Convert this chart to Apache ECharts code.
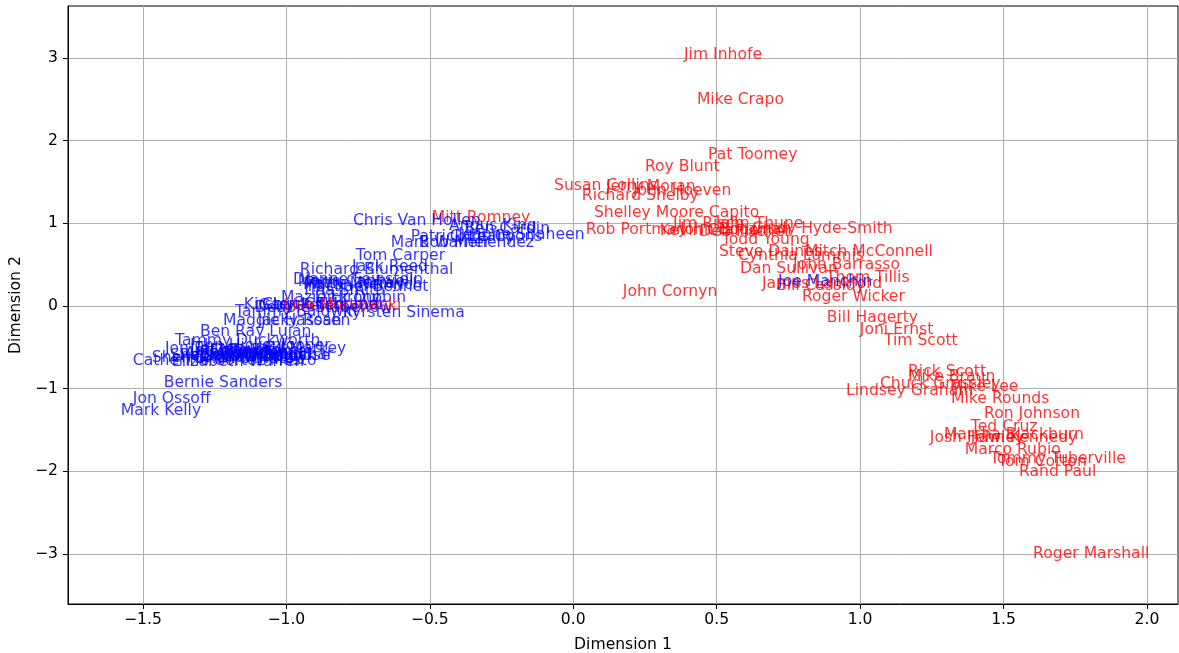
<!DOCTYPE html>
<html>
<head>
<meta charset="utf-8">
<script src="https://cdn.jsdelivr.net/npm/echarts@6/dist/echarts.min.js"></script>
<style>
  html, body { margin: 0; padding: 0; background: #fff; }
  #chart { width: 1179px; height: 653px; }
</style>
</head>
<body>
<div id="chart"></div>
<script>
// Senators placed on the first two dimensions of the vote-similarity embedding.
const republicans = [
  "Jim Inhofe", "Mike Crapo", "Pat Toomey", "Roy Blunt", "Susan Collins", "Jerry Moran",
  "John Hoeven", "Richard Shelby", "Shelley Moore Capito", "Rob Portman", "Jim Risch",
  "John Thune", "Cindy Hyde-Smith", "Kevin Cramer", "John Boozman", "Deb Fischer",
  "Todd Young", "Steve Daines", "Cynthia Lummis", "Mitch McConnell", "John Barrasso",
  "Dan Sullivan", "Thom Tillis", "James Lankford", "Bill Cassidy", "Roger Wicker",
  "John Cornyn", "Bill Hagerty", "Joni Ernst", "Tim Scott", "Rick Scott", "Mike Braun",
  "Chuck Grassley", "Mike Lee", "Lindsey Graham", "Mike Rounds", "Ron Johnson",
  "Ted Cruz", "Marsha Blackburn", "Josh Hawley", "John Kennedy", "Marco Rubio",
  "Tommy Tuberville", "Tom Cotton", "Rand Paul", "Roger Marshall", "Mitt Romney"
];
const repDim1 = [
  0.386, 0.431, 0.470, 0.250, -0.067, 0.114,
  0.208, 0.030, 0.072, 0.044, 0.348,
  0.497, 0.623, 0.302, 0.372, 0.440,
  0.518, 0.508, 0.574, 0.808, 0.766,
  0.581, 0.881, 0.658, 0.707, 0.797,
  0.173, 0.884, 0.999, 1.083, 1.167, 1.167,
  1.069, 1.313, 0.951, 1.317, 1.432,
  1.386, 1.292, 1.243, 1.386, 1.365,
  1.453, 1.481, 1.554, 1.603, -0.493
];
const repDim2 = [
  2.988, 2.443, 1.778, 1.633, 1.403, 1.391,
  1.343, 1.282, 1.077, 0.871, 0.944,
  0.944, 0.883, 0.859, 0.871, 0.847,
  0.750, 0.605, 0.556, 0.605, 0.448,
  0.399, 0.290, 0.218, 0.194, 0.060,
  0.121, -0.194, -0.339, -0.472, -0.847, -0.907,
  -0.992, -1.028, -1.077, -1.173, -1.355,
  -1.512, -1.609, -1.645, -1.645, -1.790,
  -1.899, -1.935, -2.056, -3.048, 1.016
];

const democrats = [
  "Chris Van Hollen", "Angus King", "Ben Cardin", "Jeanne Shaheen", "Patrick Leahy",
  "Chris Coons", "Mark Warner", "Bob Menendez", "Tom Carper", "Jack Reed",
  "Richard Blumenthal", "Dianne Feinstein", "Maria Cantwell", "Patty Murray",
  "Martin Heinrich", "Michael Bennet", "Tina Smith", "Mazie Hirono", "Dick Durbin",
  "Kirsten Gillibrand", "Gary Peters", "Chuck Schumer", "Debbie Stabenow",
  "Tammy Baldwin", "Kyrsten Sinema", "Maggie Hassan", "Jacky Rosen", "Ben Ray Luján",
  "Tammy Duckworth", "John Hickenlooper", "Jon Tester", "Ed Markey", "Jeff Merkley",
  "Cory Booker", "Tim Kaine", "Ron Wyden", "Alex Padilla", "Raphael Warnock",
  "Sheldon Whitehouse", "Bob Casey", "Chris Murphy", "Sherrod Brown", "Brian Schatz",
  "Amy Klobuchar", "Catherine Cortez Masto", "Elizabeth Warren", "Bernie Sanders",
  "Jon Ossoff", "Mark Kelly", "Joe Manchin"
];
const demDim1 = [
  -0.768, -0.433, -0.380, -0.401, -0.566,
  -0.430, -0.636, -0.538, -0.758, -0.771,
  -0.953, -0.977, -0.960, -0.935,
  -0.942, -0.925, -0.946, -1.019, -0.901,
  -1.148, -1.099, -1.085, -1.110,
  -1.179, -0.803, -1.221, -1.100, -1.301,
  -1.388, -1.336, -1.423, -1.075, -1.336,
  -1.266, -1.197, -1.301, -1.354, -1.371,
  -1.406, -1.214, -1.301, -1.469, -1.319,
  -1.249, -1.535, -1.399, -1.427,
  -1.535, -1.577, 0.714
];
const demDim2 = [
  0.980, 0.919, 0.883, 0.810, 0.786,
  0.786, 0.714, 0.714, 0.556, 0.423,
  0.387, 0.266, 0.242, 0.218,
  0.206, 0.181, 0.133, 0.048, 0.048,
  -0.036, -0.048, -0.036, -0.073,
  -0.121, -0.133, -0.230, -0.230, -0.363,
  -0.472, -0.532, -0.569, -0.569, -0.593,
  -0.593, -0.605, -0.617, -0.629, -0.653,
  -0.653, -0.665, -0.665, -0.677, -0.689,
  -0.641, -0.714, -0.726, -0.980,
  -1.173, -1.318, 0.242
];

// Republican drawn last so it sits over the Democratic cluster
const lateRepublicans = ["Lisa Murkowski"];
const lateRepDim1 = [-1.009];
const lateRepDim2 = [-0.048];

const xTicks = [-1.5, -1.0, -0.5, 0.0, 0.5, 1.0, 1.5, 2.0];
const yTicks = [-3, -2, -1, 0, 1, 2, 3];

const FONT = 'DejaVu Sans';
const FS = 15.6;

function points(names, d1, d2, color) {
  return names.map((n, i) => ({
    value: [d1[i], d2[i]],
    name: n,
    label: { color: color }
  }));
}

const data = []
  .concat(points(republicans, repDim1, repDim2, '#ff0000'))
  .concat(points(democrats, demDim1, demDim2, '#0000ff'))
  .concat(points(lateRepublicans, lateRepDim1, lateRepDim2, '#ff0000'));

function fmt(v, digits) {
  const s = Math.abs(v).toFixed(digits);
  return (v < 0 ? '\u2212' : '') + s;
}

const chart = echarts.init(document.getElementById('chart'), null, { renderer: 'canvas' });
chart.setOption({
  animation: false,
  backgroundColor: '#ffffff',
  grid: {
    left: 68, top: 6, width: 1110, height: 598,
    outerBoundsMode: 'none',
    containLabel: false,
    show: true, borderColor: '#000', borderWidth: 1, backgroundColor: 'transparent'
  },
  xAxis: {
    type: 'value',
    min: -1.761, max: 2.108,
    name: 'Dimension 1',
    nameLocation: 'middle',
    nameGap: 33,
    nameTextStyle: { fontFamily: FONT, fontSize: FS, color: '#000' },
    axisLine: { show: true, onZero: false, lineStyle: { color: '#000', width: 1 } },
    axisTick: { show: true, inside: false, length: 5, lineStyle: { color: '#000', width: 1 }, customValues: xTicks },
    axisLabel: { margin: 8, fontFamily: FONT, fontSize: FS, color: '#000', customValues: xTicks, formatter: v => fmt(v, 1) },
    splitLine: { show: true, lineStyle: { color: '#b0b0b0', width: 1 } }
  },
  yAxis: {
    type: 'value',
    min: -3.605, max: 3.629,
    name: 'Dimension 2',
    nameLocation: 'middle',
    nameGap: 40,
    nameRotate: 90,
    nameTextStyle: { fontFamily: FONT, fontSize: FS, color: '#000' },
    axisLine: { show: true, onZero: false, lineStyle: { color: '#000', width: 1 } },
    axisTick: { show: true, inside: false, length: 5, lineStyle: { color: '#000', width: 1 }, customValues: yTicks },
    axisLabel: { margin: 10, fontFamily: FONT, fontSize: FS, color: '#000', customValues: yTicks, formatter: v => fmt(v, 0) },
    splitLine: { show: true, lineStyle: { color: '#b0b0b0', width: 1 } }
  },
  series: [{
    type: 'scatter',
    symbolSize: 0,
    itemStyle: { color: 'rgba(0,0,0,0)' },
    data: data,
    label: {
      show: true,
      position: [0, 0],
      align: 'left',
      verticalAlign: 'middle',
      offset: [0, -4.5],
      fontFamily: FONT,
      fontSize: FS,
      formatter: p => p.name
    },
    emphasis: { disabled: true }
  }]
});
</script>
</body>
</html>
